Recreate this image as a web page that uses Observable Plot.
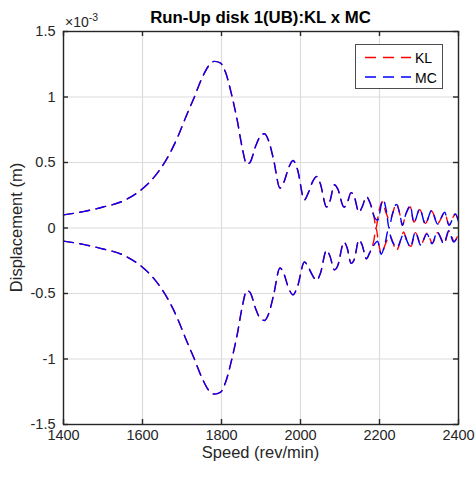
<!DOCTYPE html>
<html>
<head>
<meta charset="utf-8">
<script src="https://cdn.jsdelivr.net/npm/d3@7"></script>
<script src="https://cdn.jsdelivr.net/npm/@observablehq/plot@0.6"></script>
<style>
  html, body { margin: 0; padding: 0; background: #fff; }
</style>
</head>
<body>
<div id="chart"></div>
<script>
// ---- data (displacement in units of 1e-3 m) ----
const xTicks = [1400, 1600, 1800, 2000, 2200, 2400];
const yTicks = [-1.5, -1, -0.5, 0, 0.5, 1, 1.5];
const yTickLabels = ["-1.5", "-1", "-0.5", "0", "0.5", "1", "1.5"];

// shared part (KL and MC coincide)
const mainSpeed = [1400, 1450, 1500, 1550, 1600, 1630, 1660, 1690, 1710, 1730, 1750, 1768, 1782, 1797, 1810, 1827, 1840, 1852, 1864, 1872, 1887, 1898, 1909, 1920, 1932, 1948, 1958, 1970, 1981, 1992, 2010, 2020, 2030, 2041, 2050, 2066, 2074, 2086, 2094, 2110, 2118, 2128, 2136, 2148, 2156, 2167, 2175];
const mainUpper = [0.10, 0.125, 0.16, 0.205, 0.30, 0.39, 0.52, 0.70, 0.85, 0.99, 1.14, 1.24, 1.272, 1.26, 1.19, 1.00, 0.82, 0.62, 0.488, 0.50, 0.63, 0.70, 0.72, 0.66, 0.52, 0.305, 0.35, 0.46, 0.515, 0.45, 0.215, 0.27, 0.35, 0.393, 0.34, 0.16, 0.20, 0.33, 0.30, 0.16, 0.19, 0.27, 0.24, 0.12, 0.16, 0.24, 0.20];
const mainLower = [-0.10, -0.125, -0.16, -0.205, -0.30, -0.39, -0.52, -0.70, -0.85, -0.99, -1.14, -1.24, -1.268, -1.255, -1.18, -0.99, -0.81, -0.61, -0.478, -0.49, -0.62, -0.69, -0.706, -0.65, -0.51, -0.305, -0.35, -0.46, -0.51, -0.45, -0.26, -0.30, -0.36, -0.40, -0.35, -0.17, -0.21, -0.32, -0.29, -0.108, -0.15, -0.27, -0.24, -0.09, -0.13, -0.235, -0.19];

// tail (series diverge)
const klUpperTailSpeed = [2186, 2191, 2198, 2207, 2216, 2226, 2243, 2252, 2258, 2266, 2278, 2287, 2302, 2316, 2332, 2347, 2365, 2376, 2392, 2400];
const klUpperTail      = [0.09, 0.0, 0.12, 0.20, 0.12, 0.06, 0.185, 0.10, 0.02, 0.10, 0.16, 0.045, 0.14, 0.035, 0.13, 0.035, 0.115, 0.025, 0.105, 0.05];
const mcUpperTailSpeed = [2186, 2195, 2209, 2218, 2224, 2232, 2243, 2252, 2258, 2266, 2278, 2287, 2302, 2316, 2332, 2347, 2365, 2376, 2392, 2400];
const mcUpperTail      = [0.09, 0.06, 0.215, 0.12, 0.0, 0.10, 0.18, 0.10, 0.02, 0.10, 0.17, 0.04, 0.146, 0.03, 0.134, 0.03, 0.12, 0.02, 0.108, 0.05];
const klLowerTailSpeed = [2186, 2191, 2198, 2205, 2214, 2226, 2243, 2255, 2261, 2270, 2280, 2291, 2305, 2320, 2334, 2347, 2364, 2376, 2389, 2400];
const klLowerTail      = [-0.09, 0.0, -0.12, -0.20, -0.13, -0.06, -0.17, -0.08, -0.03, -0.11, -0.14, -0.035, -0.125, -0.04, -0.115, -0.035, -0.115, -0.025, -0.10, -0.04];
const mcLowerTailSpeed = [2186, 2195, 2204, 2214, 2222, 2232, 2245, 2255, 2261, 2270, 2278, 2291, 2304, 2320, 2333, 2346, 2363, 2375, 2388, 2400];
const mcLowerTail      = [-0.13, -0.10, -0.20, -0.12, -0.02, -0.10, -0.146, -0.08, -0.04, -0.10, -0.146, -0.03, -0.13, -0.045, -0.12, -0.03, -0.12, -0.02, -0.108, -0.04];

const seriesNames = ["KL", "MC"];
const seriesColors = ["#ff0000", "#0000ff"];

// ---- build table ----
function build(series, branch, mainY, tailX, tailY) {
  const rows = mainSpeed.map((s, i) => ({series, branch, speed: s, disp: mainY[i]}));
  tailX.forEach((s, i) => rows.push({series, branch, speed: s, disp: tailY[i]}));
  return rows;
}
const kl = [...build("KL", "up", mainUpper, klUpperTailSpeed, klUpperTail), ...build("KL", "low", mainLower, klLowerTailSpeed, klLowerTail)];
const mc = [...build("MC", "up", mainUpper, mcUpperTailSpeed, mcUpperTail), ...build("MC", "low", mainLower, mcLowerTailSpeed, mcLowerTail)];

const W = 476, H = 477;
const mL = 63, mR = 18, mT = 31, mB = 53;
const innerW = W - mL - mR, innerH = H - mT - mB;
const axisColor = "#262626";
const font = "'Liberation Sans', Arial, Helvetica, sans-serif";
const dash = "10,6.5";

const lineOpts = (color) => ({
  x: "speed", y: "disp", z: "branch", stroke: color, strokeWidth: 1.4,
  strokeDasharray: dash, curve: "monotone-x"
});

const chart = Plot.plot({
  width: W, height: H,
  marginLeft: mL, marginRight: mR, marginTop: mT, marginBottom: mB,
  style: {fontFamily: font, fontSize: "14.5px", color: axisColor, background: "#fff"},
  x: {domain: [1400, 2400]},
  y: {domain: [-1.5, 1.5]},
  marks: [
    Plot.gridX(xTicks, {stroke: "#dcdcdc", strokeOpacity: 1, strokeWidth: 1.2}),
    Plot.gridY(yTicks, {stroke: "#dcdcdc", strokeOpacity: 1, strokeWidth: 1.2}),
    Plot.line(kl, lineOpts(seriesColors[0])),
    Plot.line(mc, lineOpts(seriesColors[1])),
    Plot.frame({stroke: axisColor, strokeWidth: 1.4}),
    Plot.tickX(xTicks, {x: d => d, stroke: axisColor, strokeWidth: 1.4, insetTop: innerH - 5}),
    Plot.tickX(xTicks, {x: d => d, stroke: axisColor, strokeWidth: 1.4, insetBottom: innerH - 5}),
    Plot.tickY(yTicks, {y: d => d, stroke: axisColor, strokeWidth: 1.4, insetRight: innerW - 5}),
    Plot.tickY(yTicks, {y: d => d, stroke: axisColor, strokeWidth: 1.4, insetLeft: innerW - 5}),
    Plot.axisX(xTicks, {tickSize: 0, tickPadding: 5, fontSize: 14.5, fill: axisColor, label: null, tickFormat: d => String(d)}),
    Plot.axisY(yTicks, {tickSize: 0, tickPadding: 8, fontSize: 14.5, fill: axisColor, label: null, tickFormat: d => yTickLabels[yTicks.indexOf(d)]})
  ]
});

document.getElementById("chart").appendChild(chart);

// ---- annotations: title, labels, exponent, legend ----
const svg = d3.select(chart);
const cx = mL + innerW / 2;
svg.append("text").attr("x", cx).attr("y", 23).attr("text-anchor", "middle")
  .attr("font-family", font).attr("font-size", 16.8).attr("font-weight", "bold").attr("fill", "#000")
  .text("Run-Up disk 1(UB):KL x MC");
svg.append("text").attr("x", cx).attr("y", 458).attr("text-anchor", "middle")
  .attr("font-family", font).attr("font-size", 16.5).attr("fill", axisColor)
  .text("Speed (rev/min)");
svg.append("text").attr("transform", `translate(22,${mT + innerH / 2}) rotate(-90)`).attr("text-anchor", "middle")
  .attr("font-family", font).attr("font-size", 16.5).attr("fill", axisColor)
  .text("Displacement (m)");
const ex = svg.append("text").attr("x", 65).attr("y", 27).attr("text-anchor", "start")
  .attr("font-family", font).attr("font-size", 14).attr("fill", axisColor);
ex.append("tspan").text("\u00d710");
ex.append("tspan").attr("dy", -6).attr("font-size", 10.5).text("-3");

const lg = svg.append("g");
lg.append("rect").attr("x", 355.5).attr("y", 44.5).attr("width", 87).attr("height", 44)
  .attr("fill", "#fff").attr("stroke", "#4d4d4d").attr("stroke-width", 1);
const legY = [57.5, 77];
seriesNames.forEach((name, i) => {
  const yy = legY[i];
  lg.append("line").attr("x1", 365).attr("x2", 411).attr("y1", yy).attr("y2", yy)
    .attr("stroke", seriesColors[i]).attr("stroke-width", 1.4).attr("stroke-dasharray", "11,7");
  lg.append("text").attr("x", 415).attr("y", yy + 5.5).attr("text-anchor", "start")
    .attr("font-family", font).attr("font-size", 14)
    .attr("fill", "#000").text(name);
});
</script>
</body>
</html>
